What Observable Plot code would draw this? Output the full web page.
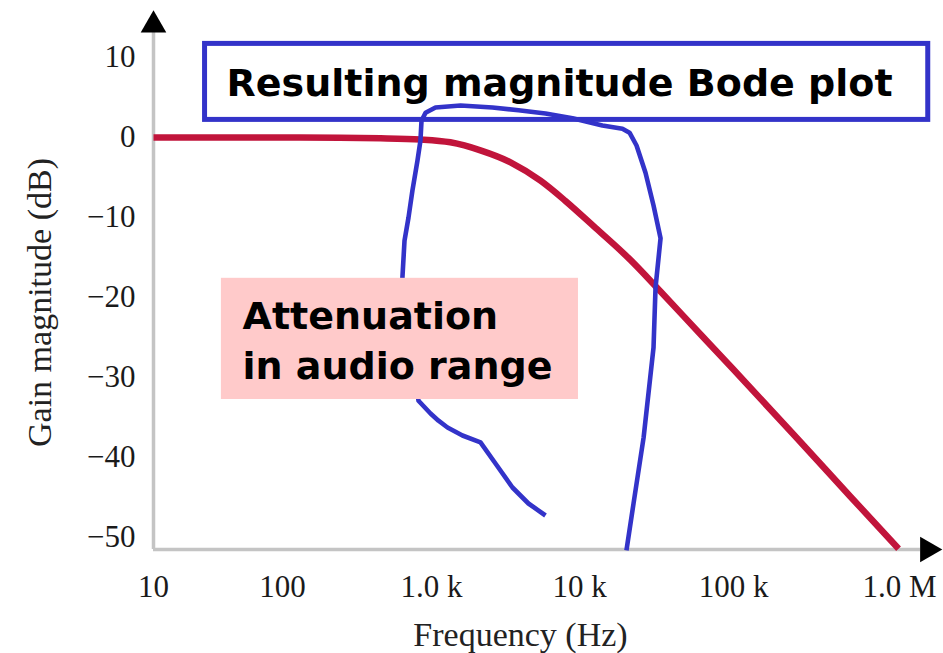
<!DOCTYPE html>
<html><head><meta charset="utf-8">
<script src="https://cdn.jsdelivr.net/npm/d3@7"></script>
<script src="https://cdn.jsdelivr.net/npm/@observablehq/plot@0.6"></script>
<style>html,body{margin:0;padding:0;background:#fff;} #chart{width:943px;height:653px;overflow:hidden}</style>
</head><body><div id="chart"></div>
<script>
// Axis ticks
const tickHz = [10, 100, 1000, 10000, 100000, 1000000];
const tickHzLabels = ["10", "100", "1.0 k", "10 k", "100 k", "1.0 M"];
const tickDb = [10, 0, -10, -20, -30, -40, -50];
const tickDbLabels = ["10", "0", "\u221210", "\u221220", "\u221230", "\u221240", "\u221250"];

// Red magnitude curve
const freqHz = [10, 130, 455, 845, 1340, 2140, 3420, 5450, 8000, 12700, 21400, 33600, 61000, 100000, 254000, 507000, 987000];
const gainDb = [0, 0, -0.1, -0.25, -0.6, -1.6, -3.1, -5.4, -7.9, -11.3, -15.3, -19.25, -24.6, -29.0, -38.1, -44.9, -51.4];

// Blue hand-drawn outline
const sketchHz = [5890, 4520, 3525, 2706, 2143, 1619, 1283, 1115, 985, 818,
  638, 659, 701, 745, 805, 843, 857, 912, 1064, 1572,
  2582, 3873, 5890, 8970, 14090, 19000, 21130, 23460, 26830, 30250,
  33600, 31170, 30250, 26080, 22430, 20180];
const sketchDb = [-47.25, -45.75, -43.75, -40.75, -38.1, -37.25, -36.25, -35.4, -34.5, -32.9,
  -17.5, -12.9, -10, -6.6, -2.9, -0.4, 2.1, 3.1, 3.75, 4,
  3.75, 3.4, 3, 2.4, 1.5, 1.1, 0.6, -1, -4.4, -8.5,
  -12.6, -18.75, -26.25, -37.5, -45.75, -51.6];

// Texts
const xTitle = "Frequency (Hz)";
const yTitle = "Gain magnitude (dB)";
const boxTitle = "Resulting magnitude Bode plot";
const boxNote = "Attenuation\nin audio range";

const curve = freqHz.map((f, i) => ({f, g: gainDb[i]}));
const sketch = sketchHz.map((f, i) => ({f, g: sketchDb[i]}));

const yMin = -51.5, yMax = 13.125;
const axisColor = "#c4c4c4";
const blue = "#3333c9";
const red = "#c1143b";
const serif = "Liberation Serif, Times New Roman, serif";

const plot = Plot.plot({
  width: 943,
  height: 653,
  marginLeft: 153,
  marginRight: 56,
  marginTop: 32,
  marginBottom: 104,
  style: {fontFamily: serif, fontSize: "31px", color: "#1a1a1a", background: "white", overflow: "visible"},
  x: {type: "log", domain: tickHz, range: [153, 282, 431, 579, 733, 899]},
  y: {domain: [yMin, yMax]},
  marks: [
    // axis lines and arrows
    Plot.ruleX([10], {y1: yMin, y2: yMax, stroke: axisColor, strokeWidth: 3.5}),
    Plot.ruleY([yMin], {x1: 10, x2: 1.34e6, stroke: axisColor, strokeWidth: 3.5}),
    Plot.dot([yMax], {x: 10, y: 14.05, symbol: "triangle", r: 9.5, fill: "black", stroke: null}),
    Plot.dot([1e6], {x: 1.475e6, y: yMin, symbol: "triangle", rotate: 90, r: 9.5, fill: "black", stroke: null}),
    // tick labels
    Plot.axisX(tickHz, {tickSize: 0, tickPadding: 25, fontSize: 31, label: null,
      tickFormat: d => tickHzLabels[tickHz.indexOf(d)], fill: "#1a1a1a"}),
    Plot.axisY(tickDb, {tickSize: 0, tickPadding: 18, fontSize: 31, label: null,
      tickFormat: d => tickDbLabels[tickDb.indexOf(d)], fill: "#1a1a1a"}),
    // axis titles
    Plot.text([xTitle], {frameAnchor: "bottom", dy: 96, lineAnchor: "bottom", textAnchor: "middle", text: d => d,
      fontSize: 34, fontFamily: serif, fill: "#222"}),
    Plot.text([yTitle], {frameAnchor: "left", dx: -113, dy: 11.5, rotate: -90, textAnchor: "middle", lineAnchor: "middle",
      text: d => d, fontSize: 34, fontFamily: serif, fill: "#222"}),
    // red curve
    Plot.line(curve, {x: "f", y: "g", stroke: red, strokeWidth: 6.5, curve: "monotone-x", strokeLinecap: "butt"}),
    // title box
    Plot.rect([boxTitle], {x1: 25.1, x2: 1.49e6, y1: 2.2, y2: 11.7, fill: "white", stroke: blue, strokeWidth: 5}),
    Plot.text([boxTitle], {x: 36.8, y: 5.25, text: d => d, textAnchor: "start", lineAnchor: "bottom",
      fontFamily: "DejaVu Sans", fontWeight: "bold", fontSize: 38, fill: "black"}),
    // blue sketch
    Plot.line(sketch, {x: "f", y: "g", stroke: blue, strokeWidth: 4.6, strokeLinejoin: "round", strokeLinecap: "butt"}),
    // pink note box
    Plot.rect([boxNote], {x1: 33.6, x2: 9840, y1: -32.75, y2: -17.6, fill: "#ffcaca"}),
    Plot.text([boxNote], {x: 49, y: -30.125, text: d => d, textAnchor: "start", lineAnchor: "bottom",
      lineHeight: 1.3, fontFamily: "DejaVu Sans", fontWeight: "bold", fontSize: 38, fill: "black"})
  ]
});
document.getElementById("chart").appendChild(plot);
</script>
</body></html>
